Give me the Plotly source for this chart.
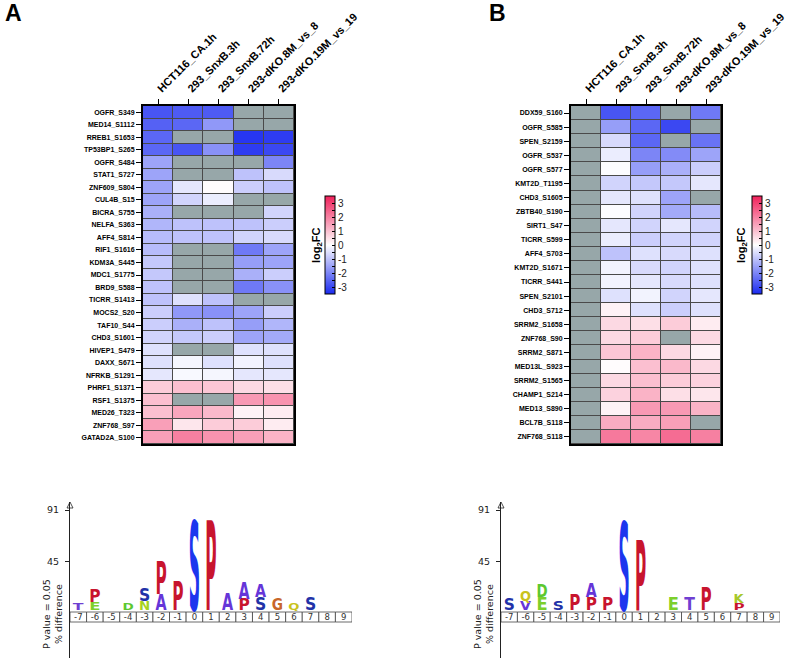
import plotly.graph_objects as go

# ---------------- data ----------------
columns = ["HCT116_CA.1h", "293_SnxB.3h", "293_SnxB.72h", "293-dKO.8M_vs_8", "293-dKO.19M_vs_19"]

rows_a = ["OGFR_S349", "MED14_S1112", "RREB1_S1653", "TP53BP1_S265", "OGFR_S484", "STAT1_S727",
          "ZNF609_S804", "CUL4B_S15", "BICRA_S755", "NELFA_S363", "AFF4_S814", "RIF1_S1616",
          "KDM3A_S445", "MDC1_S1775", "BRD9_S588", "TICRR_S1413", "MOCS2_S20", "TAF10_S44",
          "CHD3_S1601", "HIVEP1_S479", "DAXX_S671", "NFRKB_S1291", "PHRF1_S1371", "RSF1_S1375",
          "MED26_T323", "ZNF768_S97", "GATAD2A_S100"]
vals_a = [
    [-2.8, -2.7, -2.7, None, None],
    [-2.6, -2.5, -1.7, None, None],
    [-2.5, None, None, -3.3, -3.2],
    [-2.5, -2.8, -1.8, -3.2, -3.0],
    [-1.5, None, None, None, -2.0],
    [-1.5, None, None, -1.0, -0.6],
    [-1.5, -0.4, 0.05, -0.8, -1.0],
    [-1.5, -0.7, -0.3, None, None],
    [-1.3, None, None, None, -0.7],
    [-1.2, -1.0, -1.0, -1.0, -0.8],
    [-1.1, -1.0, -1.0, -0.7, -0.6],
    [-1.1, None, None, -2.2, -1.5],
    [-0.9, None, None, -1.6, -1.5],
    [-0.9, None, None, -1.3, -0.8],
    [-1.0, None, None, -2.2, -1.8],
    [-1.0, -0.5, -1.0, None, None],
    [-0.8, -1.7, -1.8, -1.5, -0.8],
    [-0.8, -1.3, -1.0, -1.6, -1.2],
    [-0.7, -0.9, -0.8, -1.5, -1.4],
    [-0.5, None, None, -0.5, -0.5],
    [-0.5, -0.15, -0.5, -0.2, -0.5],
    [-0.4, -0.1, -0.15, -0.4, -0.4],
    [0.8, 1.0, 0.9, 0.6, 0.5],
    [1.0, None, None, 1.6, 1.7],
    [1.0, 1.4, 1.1, 0.2, 0.3],
    [1.5, 0.4, 0.8, 0.8, 0.3],
    [1.5, 2.0, 1.7, 1.5, 1.2],
]

rows_b = ["DDX59_S160", "OGFR_S585", "SPEN_S2159", "OGFR_S537", "OGFR_S577", "KMT2D_T1195",
          "CHD3_S1605", "ZBTB40_S190", "SIRT1_S47", "TICRR_S599", "AFF4_S703", "KMT2D_S1671",
          "TICRR_S441", "SPEN_S2101", "CHD3_S712", "SRRM2_S1658", "ZNF768_S90", "SRRM2_S871",
          "MED13L_S923", "SRRM2_S1565", "CHAMP1_S214", "MED13_S890", "BCL7B_S118", "ZNF768_S118"]
vals_b = [
    [None, -2.8, -2.5, None, -2.2],
    [None, -1.6, -2.5, -3.0, None],
    [None, -0.6, -2.5, None, -2.3],
    [None, -0.3, -2.0, -1.9, -1.5],
    [None, -0.05, -1.6, -1.3, -0.8],
    [None, -0.7, -0.9, -0.9, -0.4],
    [None, -0.4, -0.5, -1.5, None],
    [None, -0.05, -0.7, -1.4, -1.1],
    [None, -0.4, -0.7, -0.4, -0.7],
    [None, -0.3, -0.8, -0.7, -0.7],
    [None, -1.0, -0.5, -0.6, -0.5],
    [None, -0.2, -0.6, -0.7, -0.5],
    [None, -0.2, -0.4, -0.6, -0.5],
    [None, -0.5, -0.2, -0.7, -0.4],
    [None, 0.2, -0.5, -0.8, -0.5],
    [None, 0.6, 0.5, 0.8, 0.3],
    [None, 0.6, 0.8, None, 0.6],
    [None, 0.9, 1.2, 0.6, 0.2],
    [None, 0.05, 1.0, 1.1, 0.6],
    [None, 0.6, 1.0, 0.8, 0.7],
    [None, 0.7, 1.2, 0.5, 0.4],
    [None, 0.2, 1.6, 1.6, 1.2],
    [None, 1.3, 1.3, 1.5, None],
    [None, 2.1, 1.9, 2.3, 2.0],
]

cbar_ticks = [-3, -2.5, -2, -1.5, -1, -0.5, 0, 0.5, 1, 1.5, 2, 2.5, 3]
cbar_labels = ["-3", " ", "-2", " ", "-1", " ", "0", " ", "1", " ", "2", " ", "3"]

logo_positions = list(range(-7, 10))
logo_ticks = [45, 91]

# letters stacked bottom -> top at each position
logo_a_pos = [-7, -6, -6, -4, -3, -3, -2, -2, -1, 0, 1, 2, 3, 3, 4, 4, 5, 6, 7]
logo_a_res = ["T", "E", "P", "D", "N", "S", "A", "P", "P", "S", "P", "A", "P", "A", "S", "A", "G", "Q", "S"]
logo_a_val = [6, 7, 11, 6, 8, 11, 14, 29, 25, 80, 80, 15, 10, 15, 11, 12, 10, 6, 12]

logo_b_pos = [-7, -6, -6, -5, -5, -4, -3, -2, -2, -1, 0, 1, 3, 4, 5, 7, 7]
logo_b_res = ["S", "V", "Q", "E", "D", "S", "P", "P", "A", "P", "S", "P", "E", "T", "P", "P", "K"]
logo_b_val = [10, 8, 9, 11, 12, 8, 14, 11, 13, 11, 79, 63, 11, 12, 21, 6, 8]

# ---------------- style ----------------
W, H = 787, 658
ARIAL = "Liberation Sans, Arial, sans-serif"
DEJA = "DejaVu Sans, sans-serif"
NAN_GRAY = "#97a7a9"
GRID_DARK = "#4a4a4a"
cscale = [[0.0, "#1a2af0"], [0.5, "#ffffff"], [1.0, "#f0205a"]]
res_color = {"S": "#2232a8", "T": "#6f3fd2", "A": "#6535d8", "V": "#6535d8", "P": "#c8142e",
             "E": "#7ccf2c", "D": "#5cc830", "N": "#a6d21e", "Q": "#c9c21c", "G": "#c8662a",
             "K": "#a6c82a"}
center_color = "#1c36ee"
LETTER_W = 0.68


def fx(px):
    return px / W


def fy(py):
    return 1 - py / H


fig = go.Figure()

heat_specs = [
    dict(rows=rows_a, vals=vals_a, xa="x", ya="y", x0=143, x1=294, cbx=325, lab_x=317),
    dict(rows=rows_b, vals=vals_b, xa="x2", ya="y2", x0=571, x1=721, cbx=752, lab_x=742),
]
HT, HB = 106, 444

for spec in heat_specs:
    mask = [[1 if v is None else None for v in r] for r in spec["vals"]]
    fig.add_trace(go.Heatmap(
        x=columns, y=spec["rows"], z=mask, xaxis=spec["xa"], yaxis=spec["ya"],
        colorscale=[[0, NAN_GRAY], [1, NAN_GRAY]], showscale=False, xgap=1, ygap=1,
        hoverinfo="skip"))
    fig.add_trace(go.Heatmap(
        x=columns, y=spec["rows"], z=spec["vals"], xaxis=spec["xa"], yaxis=spec["ya"],
        colorscale=cscale, zmin=-3.5, zmax=3.5, xgap=1, ygap=1,
        colorbar=dict(x=fx(spec["cbx"]), xanchor="left", y=fy(245), yanchor="middle",
                      len=98 / H, lenmode="fraction", thickness=10, thicknessmode="pixels",
                      outlinewidth=1, outlinecolor="black", xpad=0, ypad=0,
                      tickvals=cbar_ticks, ticktext=cbar_labels, ticks="inside",
                      ticklen=3, tickwidth=1, tickcolor="black",
                      tickfont=dict(family=ARIAL, size=10, color="#222"))))
    # dark background seen through the cell gaps
    fig.add_shape(type="rect", xref=f"{spec['xa']} domain", yref=f"{spec['ya']} domain",
                  x0=0, x1=1, y0=0, y1=1, fillcolor=GRID_DARK, line_width=0, layer="below")
    fig.add_annotation(text="<b>log<sub>2</sub>FC</b>", textangle=-90, xref="paper", yref="paper",
                       x=fx(spec["lab_x"]), y=fy(245), xanchor="center", yanchor="middle",
                       showarrow=False, font=dict(family=ARIAL, size=11, color="black"))

axis_common = dict(showgrid=False, zeroline=False, showline=True, linecolor="black",
                   linewidth=2, mirror=True, ticks="outside", ticklen=5, tickwidth=1.2,
                   tickcolor="black", automargin=False)
for spec in heat_specs:
    xname = "xaxis" if spec["xa"] == "x" else "xaxis2"
    yname = "yaxis" if spec["ya"] == "y" else "yaxis2"
    fig.layout[xname] = dict(domain=[fx(spec["x0"]), fx(spec["x1"])], anchor=spec["ya"],
                             side="top", tickangle=-45,
                             tickfont=dict(family=ARIAL, size=11, color="black", weight="bold"),
                             **axis_common)
    fig.layout[yname] = dict(domain=[fy(HB), fy(HT)], anchor=spec["xa"], autorange="reversed",
                             tickfont=dict(family=ARIAL, size=7, color="black", weight="bold"),
                             **axis_common)

# ---------------- sequence logos ----------------
Y_TOP_PX, Y_BOT_PX, Y0_PX, Y91_PX = 502, 658, 612, 510
ppu = (Y0_PX - Y91_PX) / 91.0
y_lo = -(Y_BOT_PX - Y0_PX) / ppu
y_hi = (Y0_PX - Y_TOP_PX) / ppu
BOX_H = 10 / ppu
BASE = 2.0

logo_specs = [
    dict(pos=logo_a_pos, res=logo_a_res, val=logo_a_val, xa="x3", ya="y3", x0=70, x1=352, lab=52),
    dict(pos=logo_b_pos, res=logo_b_res, val=logo_b_val, xa="x4", ya="y4", x0=501, x1=780, lab=483),
]

logo_meta = []
for spec in logo_specs:
    fig.add_trace(go.Bar(
        x=logo_positions, y=[-BOX_H] * len(logo_positions), width=1,
        xaxis=spec["xa"], yaxis=spec["ya"],
        marker=dict(color="white", line=dict(color="#444", width=0.8)),
        text=[str(p) for p in logo_positions], textposition="inside", textangle=0,
        insidetextanchor="middle", constraintext="none",
        textfont=dict(family=DEJA, size=8.5, color="#333"),
        hoverinfo="skip", showlegend=False))
    # arrow head at the top of the y axis
    fig.add_trace(go.Scatter(
        x=[-7.5], y=[y_hi], xaxis=spec["xa"], yaxis=spec["ya"], mode="markers",
        marker=dict(symbol="arrow-up-open", size=6, color="#222", line=dict(color="#222", width=0.8)),
        cliponaxis=False, hoverinfo="skip", showlegend=False))
    xn = "xaxis" + spec["xa"][1:]
    yn = "yaxis" + spec["ya"][1:]
    fig.layout[xn] = dict(domain=[fx(spec["x0"]), fx(spec["x1"])], range=[-7.5, 9.5],
                          anchor=spec["ya"], visible=False)
    fig.layout[yn] = dict(domain=[0, fy(Y_TOP_PX)], range=[y_lo, y_hi], anchor=spec["xa"],
                          showgrid=False, zeroline=False, showline=True, linecolor="#222",
                          linewidth=1, ticks="outside", ticklen=4, tickcolor="#222",
                          tickvals=logo_ticks, ticklabelstandoff=4, automargin=False,
                          tickfont=dict(family=DEJA, size=9.5, color="#222"))
    fig.add_annotation(text="P value = 0.05<br>% difference", textangle=-90,
                       xref="paper", yref="paper", x=fx(spec["lab"]), y=fy(614),
                       xanchor="center", yanchor="middle",
                       showarrow=False, font=dict(family=DEJA, size=9.5, color="#222"))
    stack = {}
    for p, r, v in zip(spec["pos"], spec["res"], spec["val"]):
        base = stack.get(p, BASE)
        stack[p] = base + v
        col = center_color if p == 0 else res_color[r]
        fig.add_annotation(text=r, x=p, y=base, xref=spec["xa"], yref=spec["ya"],
                           showarrow=False, xanchor="center", yanchor="bottom",
                           font=dict(family=DEJA, size=14, color=col, weight="bold"))
        logo_meta.append([len(fig.layout.annotations) - 1, v, LETTER_W])

# panel letters
fig.add_annotation(text="<b>A</b>", x=fx(13), y=fy(13), xref="paper", yref="paper",
                   xanchor="center", yanchor="middle",
                   showarrow=False, font=dict(family=ARIAL, size=23, color="black"))
fig.add_annotation(text="<b>B</b>", x=fx(497), y=fy(13), xref="paper", yref="paper",
                   xanchor="center", yanchor="middle",
                   showarrow=False, font=dict(family=ARIAL, size=23, color="black"))

fig.update_layout(width=W, height=H, margin=dict(l=0, r=0, t=0, b=0, autoexpand=False),
                  paper_bgcolor="white", plot_bgcolor="white", showlegend=False,
                  meta={"logo": logo_meta, "cap": 0.729})

# page without default body margin; stretch each logo letter so its glyph fills its
# data-scaled box (letters stay real text)
post_js = r"""
document.body.style.margin = '0';
document.body.style.padding = '0';
var gd = document.getElementById('{plot_id}');
function stretchLetters(){
  var fl = gd._fullLayout;
  var meta = gd.layout.meta || {};
  var items = meta.logo || [];
  var cap = meta.cap || 0.729;
  items.forEach(function(it){
    var idx = it[0], h = it[1], wf = it[2];
    var a = fl.annotations[idx];
    if(!a) return;
    var xa = fl['xaxis' + a.xref.slice(1)];
    var ya = fl['yaxis' + a.yref.slice(1)];
    var g = gd.querySelector('g.annotation[data-index="' + idx + '"]');
    if(!g) return;
    var t = g.querySelector('text.annotation-text');
    if(!t) return;
    t.removeAttribute('transform');
    var bb = t.getBBox();
    var bl = parseFloat(t.getAttribute('y'));
    if(isNaN(bl)) bl = bb.y + bb.height * 0.797;
    var cx = bb.x + bb.width / 2;
    var px = xa._offset + xa.l2p(a.x);
    var py0 = ya._offset + ya.l2p(a.y);
    var py1 = ya._offset + ya.l2p(a.y + h);
    var colw = Math.abs(xa.l2p(1) - xa.l2p(0));
    var svg = t.ownerSVGElement;
    var pm = t.parentNode.getCTM().inverse();
    var p = svg.createSVGPoint(); p.x = px; p.y = py0;
    var pl = p.matrixTransform(pm);
    var sy = Math.abs(py0 - py1) / (cap * a.font.size);
    var sx = colw * wf / bb.width;
    var tx = pl.x - sx * cx, ty = pl.y - sy * bl;
    t.setAttribute('transform', 'matrix(' + [sx, 0, 0, sy, tx, ty].join(',') + ')');
  });
}
stretchLetters();
gd.on('plotly_afterplot', stretchLetters);
"""

fig.write_html("out.html", post_script=post_js, config={"displayModeBar": False})
